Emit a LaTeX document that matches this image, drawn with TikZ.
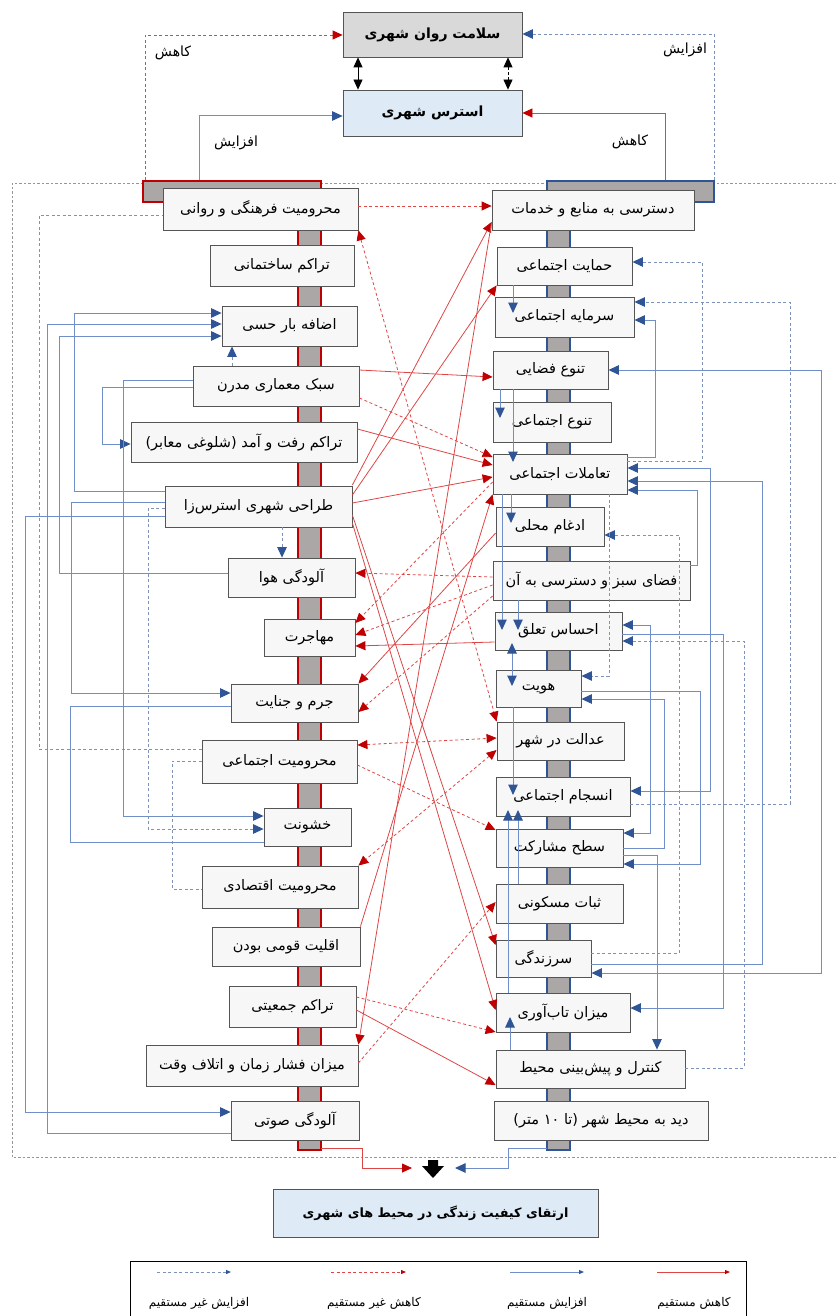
\documentclass[tikz,border=0pt]{standalone}
\usepackage{fontspec}
\usetikzlibrary{arrows.meta,calc}
\newfontfamily\fa[Script=Arabic]{DejaVu Sans}
\TeXXeTstate=1
\definecolor{redL}{RGB}{222,70,70}
\definecolor{redH}{RGB}{192,0,0}
\definecolor{blueL}{RGB}{112,143,200}
\definecolor{blueH}{RGB}{47,85,151}
\definecolor{blueD}{RGB}{125,145,185}
\definecolor{boxfill}{RGB}{247,247,247}
\definecolor{boxdraw}{RGB}{85,85,85}
\definecolor{bargray}{RGB}{172,167,167}
\definecolor{lightblue}{RGB}{222,235,247}
\definecolor{topgray}{RGB}{217,217,217}
\definecolor{framegray}{RGB}{150,150,150}
\tikzset{
  box/.style={draw=boxdraw, fill=boxfill, line width=0.8pt, inner sep=0pt, font=\fa\fontsize{14.5}{16}\selectfont},
  topbox/.style={font=\fa\bfseries\fontsize{14}{16}\selectfont},
  rl/.style={draw=redL, line width=0.8pt},
  rd/.style={rl, dash pattern=on 3pt off 2.5pt},
  bl/.style={draw=blueL, line width=1pt},
  bd/.style={draw=blueD, line width=0.9pt, dash pattern=on 3pt off 2.5pt},
  rA/.style={-{Triangle[length=10pt,width=9pt,color=redH]}},
  rAA/.style={{Triangle[length=10pt,width=9pt,color=redH]}-{Triangle[length=10pt,width=9pt,color=redH]}},
  bA/.style={-{Triangle[length=10.5pt,width=9.5pt,color=blueH]}},
  bAA/.style={{Triangle[length=10.5pt,width=9.5pt,color=blueH]}-{Triangle[length=10.5pt,width=9.5pt,color=blueH]}},
  kAA/.style={draw=black, line width=0.8pt, {Triangle[length=10pt,width=9pt]}-{Triangle[length=10pt,width=9pt]}},
  lbl/.style={font=\fa\fontsize{14}{16}\selectfont, inner sep=0pt},
  leg/.style={font=\fa\fontsize{12}{14}\selectfont, inner sep=0pt},
}
\newcommand{\Bx}[7][]{\node[box,#1,minimum width={(#5-#3)*1pt},minimum height={(#6-#4)*1pt}] (#2) at ({(#3+#5)/2},{(#4+#6)/2}) {#7};}
\begin{document}
\begin{tikzpicture}[x=1pt,y=-1pt]
\useasboundingbox (0,0) rectangle (837,1316);
% frame
\draw[framegray, line width=0.6pt, dash pattern=on 2.5pt off 2pt] (845,183) -- (12,183) -- (12,1157) -- (845,1157);
% bars
\fill[bargray] (298,202) rectangle (321,1150);
\draw[redH, line width=1.5pt] (298,202) -- (298,1150) -- (321,1150) -- (321,202);
\fill[bargray] (547,202) rectangle (570,1150);
\draw[blueH, line width=1.5pt] (547,202) -- (547,1150) -- (570,1150) -- (570,202);
\node[draw=redH, fill=bargray, line width=1.5pt, inner sep=0pt, minimum width=178pt, minimum height=21pt] (hdrL) at (232,191.5) {};
\node[draw=blueH, fill=bargray, line width=1.5pt, inner sep=0pt, minimum width=167pt, minimum height=21pt] (hdrR) at (630.5,191.5) {};
% top boxes
\Bx[fill=topgray, topbox]{health}{343}{12}{522}{57}{\beginR سلامت روان شهری\endR}
\Bx[fill=lightblue, topbox]{stress}{343}{90}{522}{136}{\beginR استرس شهری\endR}
% left boxes
\Bx{L1}{163}{188}{358}{230}{\beginR محرومیت فرهنگی و روانی\endR}
\Bx{L2}{210}{245}{354}{286}{\beginR تراکم ساختمانی\endR}
\Bx{L3}{222}{306}{357}{346}{\beginR اضافه بار حسی\endR}
\Bx{L4}{193}{366}{359}{406}{\beginR سبک معماری مدرن\endR}
\Bx{L5}{131}{422}{357}{462}{\beginR تراکم رفت و آمد (شلوغی معابر)\endR}
\Bx{L6}{165}{486}{352}{527}{\beginR طراحی شهری استرس‌زا\endR}
\Bx{L7}{228}{558}{355}{597}{\beginR آلودگی هوا\endR}
\Bx{L8}{264}{619}{355}{656}{\beginR مهاجرت\endR}
\Bx{L9}{231}{684}{358}{722}{\beginR جرم و جنایت\endR}
\Bx{L10}{202}{740}{357}{783}{\beginR محرومیت اجتماعی\endR}
\Bx{L11}{264}{808}{351}{846}{\beginR خشونت\endR}
\Bx{L12}{202}{866}{358}{908}{\beginR محرومیت اقتصادی\endR}
\Bx{L13}{212}{927}{360}{966}{\beginR اقلیت قومی بودن\endR}
\Bx{L14}{229}{986}{356}{1027}{\beginR تراکم جمعیتی\endR}
\Bx{L15}{146}{1045}{358}{1086}{\beginR میزان فشار زمان و اتلاف وقت\endR}
\Bx{L16}{231}{1101}{359}{1140}{\beginR آلودگی صوتی\endR}
% right boxes
\Bx{R1}{492}{190}{694}{230}{\beginR دسترسی به منابع و خدمات\endR}
\Bx{R2}{497}{247}{632}{285}{\beginR حمایت اجتماعی\endR}
\Bx{R3}{495}{297}{634}{337}{\beginR سرمایه اجتماعی\endR}
\Bx{R4}{493}{351}{608}{389}{\beginR تنوع فضایی\endR}
\Bx{R5}{493}{402}{611}{442}{\beginR تنوع اجتماعی\endR}
\Bx{R6}{493}{454}{627}{494}{\beginR تعاملات اجتماعی\endR}
\Bx{R7}{496}{507}{604}{546}{\beginR ادغام محلی\endR}
\Bx{R8}{493}{561}{690}{600}{\beginR فضای سبز و دسترسی به آن\endR}
\Bx{R9}{495}{612}{622}{650}{\beginR احساس تعلق\endR}
\Bx{R10}{496}{670}{581}{707}{\beginR هویت\endR}
\Bx{R11}{497}{722}{624}{760}{\beginR عدالت در شهر\endR}
\Bx{R12}{496}{777}{630}{816}{\beginR انسجام اجتماعی\endR}
\Bx{R13}{496}{829}{623}{867}{\beginR سطح مشارکت\endR}
\Bx{R14}{496}{884}{623}{923}{\beginR ثبات مسکونی\endR}
\Bx{R15}{496}{940}{591}{977}{\beginR سرزندگی\endR}
\Bx{R16}{496}{993}{630}{1032}{\beginR میزان تاب‌آوری\endR}
\Bx{R17}{496}{1050}{685}{1088}{\beginR کنترل و پیش‌بینی محیط\endR}
\Bx{R18}{494}{1101}{708}{1140}{\beginR دید به محیط شهر (تا ۱۰ متر)\endR}
% goal
\Bx[fill=lightblue, font=\fa\bfseries\fontsize{12.8}{15}\selectfont]{goal}{273}{1189}{598}{1237}{\beginR ارتقای کیفیت زندگی در محیط های شهری\endR}
% top connectors
\draw[rd,rA] (hdrL.north -| 145,0) -- (145,35) -- (health.west |- 0,35);
\draw[bl,bA] (hdrL.north -| 199,0) -- (199,116) -- (stress.west |- 0,116);
\draw[bd,bA] (hdrR.north -| 714,0) -- (714,34) -- (health.east |- 0,34);
\draw[rl,rA] (hdrR.north -| 665,0) -- (665,113) -- (stress.east |- 0,113);
\draw[kAA] (health.south -| 358,0) -- (stress.north -| 358,0);
\draw[kAA, dash pattern=on 3pt off 2pt] (health.south -| 508,0) -- (stress.north -| 508,0);
\node[lbl] (lk1) at (173,53) {\beginR کاهش\endR};
\node[lbl] (la1) at (236,143) {\beginR افزایش\endR};
\node[lbl] (la2) at (685,50) {\beginR افزایش\endR};
\node[lbl] (lk2) at (630,142) {\beginR کاهش\endR};
% left blue connectors
\draw[bl,bA] (L6.west |- 0,491) -- (74,491) -- (74,313) -- (L3.west |- 0,313);
\draw[bl,bA] (L16.west |- 0,1133) -- (47,1133) -- (47,324) -- (L3.west |- 0,324);
\draw[bl,bA] (L7.west |- 0,573) -- (59,573) -- (59,336) -- (L3.west |- 0,336);
\draw[bd,bA] (L4.north -| 232,0) -- (L3.south -| 232,0);
\draw[bl,bA] (L4.west |- 0,387) -- (102,387) -- (102,444) -- (L5.west |- 0,444);
\draw[bl,bA] (L4.west |- 0,380) -- (123,380) -- (123,816) -- (L11.west |- 0,816);
\draw[bl,bA] (L6.west |- 0,502) -- (71,502) -- (71,693) -- (L9.west |- 0,693);
\draw[bl,bA] (L6.west |- 0,516) -- (25,516) -- (25,1112) -- (L16.west |- 0,1112);
\draw[bd,bA] (L6.west |- 0,508) -- (148,508) -- (148,829) -- (L11.west |- 0,829);
\draw[bd,bA] (L6.south -| 282,0) -- (L7.north -| 282,0);
\draw[bl] (L9.west |- 0,706) -- (70,706) -- (70,842) -- (L11.west |- 0,842);
\draw[bd] (L10.west |- 0,749) -- (39,749) -- (39,215) -- (L1.west |- 0,215);
\draw[bd] (L10.west |- 0,761) -- (172,761) -- (172,889) -- (L12.west |- 0,889);
% right blue, inside column
\draw[bl,bA] (R2.south -| 513,0) -- (513,313);
\draw[bl,bA] (R4.south -| 500,0) -- (500,418);
\draw[bl,bA] (R4.south -| 513,0) -- (513,462);
\draw[bl,bA] (R6.south -| 511,0) -- (511,523);
\draw[bl,bA] (R6.south -| 502,0) -- (502,630);
\draw[bl,bA] (R8.south -| 518,0) -- (518,630);
\draw[bl,bAA] (512,643) -- (512,686);
\draw[bl,bA] (R10.south -| 513,0) -- (513,795);
\draw[bl,bA] (R14.north -| 518,0) -- (518,810);
\draw[bl,bA] (R16.north -| 508,0) -- (508,810);
\draw[bl,bA] (R17.north -| 510,0) -- (510,1017);
% right blue, outside
\draw[bd,bA] (R6.east |- 0,461) -- (702,461) -- (702,262) -- (R2.east |- 0,262);
\draw[bd,bA] (R12.east |- 0,804) -- (790,804) -- (790,302) -- (R3.east |- 0,302);
\draw[bl,bA] (R6.east |- 0,457) -- (655,457) -- (655,320) -- (R3.east |- 0,320);
\draw[bl,bAA] (R4.east |- 0,370) -- (821,370) -- (821,973) -- (R15.east |- 0,973);
\draw[bl,bAA] (R6.east |- 0,468) -- (710,468) -- (710,791) -- (R12.east |- 0,791);
\draw[bl,bA] (R15.east |- 0,964) -- (762,964) -- (762,481) -- (R6.east |- 0,481);
\draw[bl,bA] (R8.east |- 0,565) -- (697,565) -- (697,490) -- (R6.east |- 0,490);
\draw[bd,bA] (R15.east |- 0,953) -- (679,953) -- (679,535) -- (R7.east |- 0,535);
\draw[bd,bA] (R6.south -| 609,0) -- (609,676) -- (R10.east |- 0,676);
\draw[bl,bAA] (R9.east |- 0,625) -- (650,625) -- (650,833) -- (R13.east |- 0,833);
\draw[bl,bA] (R9.east |- 0,634) -- (723,634) -- (723,1008) -- (R16.east |- 0,1008);
\draw[bd,bA] (R17.east |- 0,1068) -- (744,1068) -- (744,641) -- (R9.east |- 0,641);
\draw[bl,bA] (R10.east |- 0,691) -- (700,691) -- (700,864) -- (R13.east |- 0,864);
\draw[bl,bA] (R13.east |- 0,848) -- (664,848) -- (664,699) -- (R10.east |- 0,699);
\draw[bl,bA] (R13.east |- 0,855) -- (657,855) -- (R17.north -| 657,0);
% red connectors
\draw[rd,rA] (L1.east |- 0,206) -- (R1.west |- 0,206);
\draw[rd,rAA] (L1.south east) -- (R11.north west);
\draw[rl,rA] (L4.east |- 0,370) -- (R4.west |- 0,377);
\draw[rd,rA] (L4.east |- 0,398) -- (R6.west |- 0,457);
\draw[rl,rA] (L5.east |- 0,429) -- (R6.west |- 0,465);
\draw[rl,rA] (L6.east |- 0,503) -- (R6.west |- 0,477);
\draw[rl,rA] (L6.east |- 0,485) -- (R1.west |- 0,222);
\draw[rl,rA] (L6.east |- 0,495) -- (R2.south west);
\draw[rl,rA] (L6.east |- 0,515) -- (R15.west |- 0,945);
\draw[rl,rA] (L6.east |- 0,523) -- (R16.west |- 0,1010);
\draw[rl,rA] (R1.west |- 0,222) -- (L15.north east);
\draw[rl,rA] (L13.north east) -- (R6.south west);
\draw[rl,rA] (R7.west |- 0,533) -- (L9.north east);
\draw[rd,rA] (R8.west |- 0,577) -- (L7.east |- 0,573);
\draw[rd,rA] (R8.west |- 0,585) -- (L8.east |- 0,635);
\draw[rd,rA] (R6.west |- 0,482) -- (L8.east |- 0,623);
\draw[rd,rA] (R8.west |- 0,596) -- (L9.east |- 0,712);
\draw[rl,rA] (R9.west |- 0,642) -- (L8.east |- 0,646);
\draw[rd,rAA] (L10.east |- 0,745) -- (R11.west |- 0,738);
\draw[rd,rAA] (R11.west |- 0,750) -- (L12.north east);
\draw[rd,rA] (L10.east |- 0,765) -- (R13.west |- 0,830);
\draw[rd,rA] (L15.east |- 0,1063) -- (R14.west |- 0,902);
\draw[rd,rA] (L14.east |- 0,997) -- (R16.west |- 0,1032);
\draw[rl,rA] (L14.east |- 0,1010) -- (R17.west |- 0,1085);
% bottom merge
\coordinate (blkL) at (412,1168);
\coordinate (blkR) at (455,1168);
\fill[black] (428,1160) -- (438,1160) -- (438,1166) -- (444,1166) -- (433,1178) -- (422,1166) -- (428,1166) -- cycle;
\draw[rl,rA] (321,1148) -- (362,1148) -- (362,1168) -- (blkL);
\draw[bl,bA] (547,1148) -- (508,1148) -- (508,1168) -- (blkR);
% legend
\node[draw=black, line width=0.8pt, inner sep=0pt, minimum width=616pt, minimum height=70pt] (legend) at (438,1296) {};
\coordinate (g1a) at (157,1272); \coordinate (g1b) at (231,1272);
\coordinate (g2a) at (331,1272); \coordinate (g2b) at (406,1272);
\coordinate (g3a) at (510,1272); \coordinate (g3b) at (584,1272);
\coordinate (g4a) at (657,1272); \coordinate (g4b) at (730,1272);
\draw[bd, -{Triangle[length=5pt,width=4pt,color=blueH]}] (g1a) -- (g1b);
\draw[rd, -{Triangle[length=5pt,width=4pt,color=redH]}] (g2a) -- (g2b);
\draw[bl, -{Triangle[length=5pt,width=4pt,color=blueH]}] (g3a) -- (g3b);
\draw[rl, -{Triangle[length=5pt,width=4pt,color=redH]}] (g4a) -- (g4b);
\node[leg] (t1) at (199,1303) {\beginR افزایش غیر مستقیم\endR};
\node[leg] (t2) at (374,1303) {\beginR کاهش غیر مستقیم\endR};
\node[leg] (t3) at (547,1303) {\beginR افزایش مستقیم\endR};
\node[leg] (t4) at (694,1303) {\beginR کاهش مستقیم\endR};
\end{tikzpicture}
\end{document}
